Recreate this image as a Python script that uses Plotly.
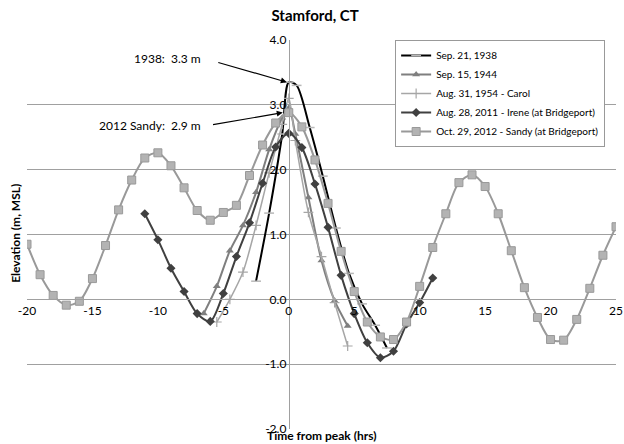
import plotly.graph_objects as go

# ---------------- data ----------------
sandy_x = list(range(-20, 26))
sandy_y = [0.85, 0.38, 0.06, -0.09, -0.03, 0.32, 0.83, 1.38, 1.84, 2.18,
           2.26, 2.06, 1.72, 1.37, 1.22, 1.34, 1.45, 1.91, 2.38, 2.72,
           2.88, 2.66, 2.15, 1.48, 0.74, 0.12, -0.35, -0.58, -0.62, -0.35,
           0.20, 0.80, 1.32, 1.80, 1.92, 1.74, 1.32, 0.75, 0.18, -0.28,
           -0.62, -0.63, -0.31, 0.17, 0.68, 1.12]

irene_x = list(range(-11, 12))
irene_y = [1.32, 0.92, 0.48, 0.12, -0.22, -0.34, 0.09, 0.66, 1.18, 1.79,
           2.35, 2.56, 2.34, 1.78, 1.11, 0.37, -0.22, -0.67, -0.90, -0.80,
           -0.38, -0.05, 0.33]

s1938_x = [-2.5, -1.5, -0.5, 0.0, 0.6, 1.6, 2.6, 3.6, 4.6, 5.6, 6.6, 7.5]
s1938_y = [0.28, 1.33, 2.55, 3.35, 3.30, 2.65, 1.90, 1.10, 0.40, -0.07, -0.40, -0.75]

s1944_x = [-6.5, -5.5, -4.5, -3.5, -2.5, -1.5, -0.5, 0.0, 0.5, 1.5, 2.5, 3.5, 4.5]
s1944_y = [-0.22, 0.20, 0.75, 1.14, 1.65, 2.31, 2.80, 2.95, 2.55, 1.57, 0.60, -0.02, -0.41]

carol_x = [-5.5, -4.5, -3.5, -2.5, -1.5, -0.5, 0.0, 0.5, 1.5, 2.5, 3.5, 4.5]
carol_y = [-0.35, 0.00, 0.42, 1.14, 1.95, 2.70, 3.10, 2.45, 1.34, 0.66, -0.05, -0.72]

series_names = ["Sep. 21, 1938", "Sep. 15, 1944", "Aug. 31, 1954 - Carol",
                "Aug. 28, 2011 - Irene (at Bridgeport)",
                "Oct. 29, 2012 - Sandy (at Bridgeport)"]

x_ticks = [-20, -15, -10, -5, 0, 5, 10, 15, 20, 25]
y_ticks = [-2.0, -1.0, 0.0, 1.0, 2.0, 3.0, 4.0]

FONT = "Lato, 'Open Sans', sans-serif"

fig = go.Figure()

fig.add_trace(go.Scatter(
    x=s1938_x, y=s1938_y, name=series_names[0], mode="lines+markers",
    line=dict(color="#000000", width=2, shape="spline", smoothing=0.8),
    marker=dict(symbol="line-ew", size=7, line=dict(color="#b8b8b8", width=1.5))))

fig.add_trace(go.Scatter(
    x=s1944_x, y=s1944_y, name=series_names[1], mode="lines+markers",
    line=dict(color="#7f7f7f", width=2, shape="spline", smoothing=0.8),
    marker=dict(symbol="triangle-up", size=7, color="#7f7f7f")))

fig.add_trace(go.Scatter(
    x=carol_x, y=carol_y, name=series_names[2], mode="lines+markers",
    line=dict(color="#a6a6a6", width=1.5, shape="spline", smoothing=0.8),
    marker=dict(symbol="cross-thin", size=7, line=dict(color="#a6a6a6", width=1.2))))

fig.add_trace(go.Scatter(
    x=irene_x, y=irene_y, name=series_names[3], mode="lines+markers",
    line=dict(color="#404040", width=2, shape="spline", smoothing=0.8),
    marker=dict(symbol="diamond", size=7, color="#404040")))

fig.add_trace(go.Scatter(
    x=sandy_x, y=sandy_y, name=series_names[4], mode="lines+markers",
    line=dict(color="#999999", width=2, shape="spline", smoothing=0.8),
    marker=dict(symbol="square", size=8, color="#b3b3b3",
                line=dict(color="#999999", width=1))))

# annotations: arrows
fig.add_annotation(x=-0.15, y=3.35, ax=-5.5, ay=3.66, axref="x", ayref="y",
                   xref="x", yref="y", text="", showarrow=True,
                   arrowhead=2, arrowsize=1, arrowwidth=1.2, arrowcolor="#000")
fig.add_annotation(x=-0.46, y=2.88, ax=-5.9, ay=2.69, axref="x", ayref="y",
                   xref="x", yref="y", text="", showarrow=True,
                   arrowhead=2, arrowsize=1, arrowwidth=1.2, arrowcolor="#000")
fig.add_annotation(x=-6.55, y=3.71, xref="x", yref="y", text="1938:  3.3 m",
                   showarrow=False, xanchor="right", yanchor="middle",
                   font=dict(size=12, color="#000", family=FONT))
fig.add_annotation(x=-6.55, y=2.68, xref="x", yref="y", text="2012 Sandy:  2.9 m",
                   showarrow=False, xanchor="right", yanchor="middle",
                   font=dict(size=12, color="#000", family=FONT))

# axis titles
fig.add_annotation(x=-0.019, y=0.504, xref="paper", yref="paper",
                   text="<b>Elevation (m, MSL)</b>", textangle=-90, showarrow=False,
                   xanchor="center", yanchor="middle",
                   font=dict(size=12, color="#000", family=FONT))
fig.add_annotation(x=0.501, y=-0.0386, xref="paper", yref="paper",
                   text="<b>Time from peak (hrs)</b>", showarrow=False,
                   xanchor="center", yanchor="bottom", borderpad=0,
                   font=dict(size=12, color="#000", family=FONT))

fig.update_layout(
    width=624, height=444,
    margin=dict(l=27, r=8, t=40, b=15),
    paper_bgcolor="white", plot_bgcolor="white",
    font=dict(family=FONT, size=12, color="#000"),
    title=dict(text="<b>Stamford, CT</b>", x=0.505, xanchor="center",
               y=0.964, yanchor="middle", font=dict(size=15, family=FONT),
               automargin=False),
    showlegend=True,
    legend=dict(x=0.625, y=1.0, xanchor="left", yanchor="top",
                bgcolor="white", bordercolor="#999999", borderwidth=1,
                font=dict(size=10, family=FONT), itemwidth=30,
                tracegroupgap=0),
    xaxis=dict(range=[-20, 25], tickvals=x_ticks, ticktext=[str(v) for v in x_ticks],
               showgrid=False, zeroline=False, showline=True, linecolor="#a0a0a0",
               linewidth=1, anchor="free", position=1/3, ticks="",
               automargin=False, tickfont=dict(size=12, color="#000")),
    yaxis=dict(range=[-2, 4], tickvals=y_ticks, ticktext=[f"{v:.1f}" for v in y_ticks],
               showgrid=True, gridcolor="#a0a0a0", gridwidth=1, zeroline=False,
               showline=True, linecolor="#a0a0a0", linewidth=1,
               anchor="free", position=20/45, ticks="",
               automargin=False, tickfont=dict(size=12, color="#000")),
)

fig.write_html("out.html", config={"displayModeBar": False},
               post_script="document.body.style.margin='0';document.body.style.padding='0';")
